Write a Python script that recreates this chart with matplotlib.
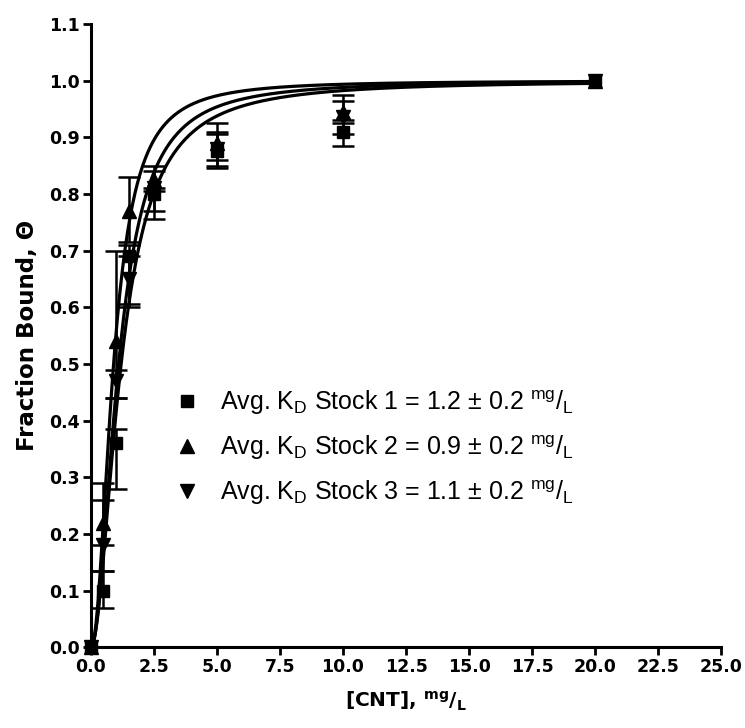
import numpy as np
import matplotlib
matplotlib.use("Agg")
import matplotlib.pyplot as plt
from matplotlib.lines import Line2D

plt.rcParams['font.family'] = ['Liberation Sans', 'DejaVu Sans']
plt.rcParams['mathtext.default'] = 'regular'

# concentrations, mg/L
conc = [0, 0.5, 1.0, 1.5, 2.5, 5.0, 10.0, 20.0]

# fraction bound for each stock
stock1 = [0.0, 0.10, 0.36, 0.69, 0.80, 0.875, 0.91, 1.0]
stock1_lo = [0.0, 0.03, 0.08, 0.09, 0.045, 0.03, 0.025, 0.0]
stock1_hi = [0.0, 0.035, 0.025, 0.02, 0.01, 0.03, 0.02, 0.0]

stock2 = [0.0, 0.22, 0.54, 0.77, 0.825, 0.89, 0.945, 1.0]
stock2_lo = [0.0, 0.04, 0.10, 0.055, 0.02, 0.03, 0.02, 0.0]
stock2_hi = [0.0, 0.07, 0.16, 0.06, 0.025, 0.035, 0.03, 0.0]

stock3 = [0.0, 0.18, 0.47, 0.65, 0.81, 0.88, 0.935, 1.0]
stock3_lo = [0.0, 0.045, 0.03, 0.045, 0.04, 0.03, 0.03, 0.0]
stock3_hi = [0.0, 0.08, 0.02, 0.04, 0.03, 0.03, 0.03, 0.0]

# fitted binding constants (Hill)
kd_fit = [1.2, 0.9, 1.1]
hill_n = [1.9, 2.1, 2.0]

labels = [
    r"Avg. K$_{D}$ Stock 1 = 1.2 ± 0.2 $^{mg}$/$_{L}$",
    r"Avg. K$_{D}$ Stock 2 = 0.9 ± 0.2 $^{mg}$/$_{L}$",
    r"Avg. K$_{D}$ Stock 3 = 1.1 ± 0.2 $^{mg}$/$_{L}$",
]
markers = ['s', '^', 'v']
msizes = [9, 10, 10]

fig = plt.figure(figsize=(7.45, 7.28), dpi=100)
ax = fig.add_axes([0.122, 0.111, 0.846, 0.856])

series = [
    (stock1, stock1_lo, stock1_hi),
    (stock2, stock2_lo, stock2_hi),
    (stock3, stock3_lo, stock3_hi),
]
xf = np.linspace(0, 20, 400)
for i, (y, lo, hi) in enumerate(series):
    yf = xf ** hill_n[i] / (kd_fit[i] ** hill_n[i] + xf ** hill_n[i])
    ax.plot(xf, yf, color='black', lw=2.3, clip_on=False, zorder=3)
    # error bars only where there is a spread
    idx = [k for k in range(len(conc)) if lo[k] > 0 or hi[k] > 0]
    ax.errorbar([conc[k] for k in idx], [y[k] for k in idx],
                yerr=[[lo[k] for k in idx], [hi[k] for k in idx]],
                fmt='none', ecolor='black', elinewidth=1.8, capsize=8,
                capthick=1.8, clip_on=False, zorder=4)
    ax.plot(conc, y, markers[i], color='black', ms=msizes[i],
            clip_on=False, zorder=5)

handles = [Line2D([], [], marker=m, color='black', ls='none', ms=s)
           for m, s in zip(markers, msizes)]
ax.legend(handles, labels, frameon=False, loc='center left',
          bbox_to_anchor=(0.093, 0.32), fontsize=18, labelspacing=0.65,
          handletextpad=0.7, handlelength=1.2)

ax.set_xlim(0, 25)
ax.set_ylim(0, 1.1)
xt = np.arange(0, 25.1, 2.5)
yt = np.arange(0, 1.11, 0.1)
ax.set_xticks(xt)
ax.set_yticks(yt)
ax.set_xticklabels([f"{v:.1f}" for v in xt])
ax.set_yticklabels([f"{v:.1f}" for v in yt])

for s in ['top', 'right']:
    ax.spines[s].set_visible(False)
for s in ['left', 'bottom']:
    ax.spines[s].set_linewidth(2.2)
ax.tick_params(width=2, length=6, pad=2)
for lab in ax.get_xticklabels() + ax.get_yticklabels():
    lab.set_fontfamily('DejaVu Sans')
    lab.set_fontweight('bold')
    lab.set_fontsize(12.5)

ax.set_xlabel(r"[CNT], $^{mg}$/$_{L}$", fontsize=14.5, fontweight='bold',
              family='DejaVu Sans', labelpad=10)
ax.set_ylabel("Fraction Bound, Θ", fontsize=16.5, fontweight='bold',
              family='DejaVu Sans', labelpad=7)

fig.savefig("out.png", dpi=100)
